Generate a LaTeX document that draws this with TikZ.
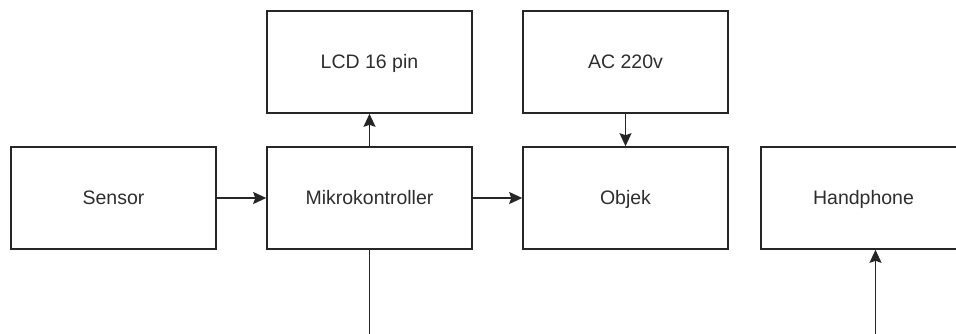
\documentclass[tikz,border=0pt]{standalone}
\usepackage{fontspec}
\setmainfont{Liberation Sans}
\usetikzlibrary{arrows.meta}
\begin{document}
\begin{tikzpicture}[x=1pt,y=-1pt,
  blk/.style={draw=black!85, line width=1.6pt, fill=white, minimum width=205pt, minimum height=102pt, inner sep=0pt, text height=12.5pt, text depth=0pt, font=\fontsize{19.5}{22}\selectfont, text=black!82},
  conn/.style={draw=black!85, line width=1.6pt, -{Stealth[length=13pt,width=12pt,inset=2pt]}}]
\useasboundingbox (0,0) rectangle (956,334);
\clip (0,0) rectangle (956,334);
\node[blk] (sensor) at (113.5,198) {Sensor};
\node[blk] (mikro) at (369.5,198) {Mikrokontroller};
\node[blk] (lcd) at (369.5,62) {LCD 16 pin};
\node[blk] (ac) at (625.5,62) {AC 220v};
\node[blk] (objek) at (625.5,198) {Objek};
\node[blk] (hp) at (863.5,198) {Handphone};
\coordinate (b1) at (369.5,345);
\coordinate (b2) at (875.5,345);
\draw[conn] (sensor) -- (mikro);
\draw[conn] (mikro) -- (objek);
\draw[conn] (mikro) -- (lcd);
\draw[conn] (ac) -- (objek);
\draw[conn] (mikro.south) -- (b1) -- (b2) -- (b2 |- hp.south);
\end{tikzpicture}
\end{document}
